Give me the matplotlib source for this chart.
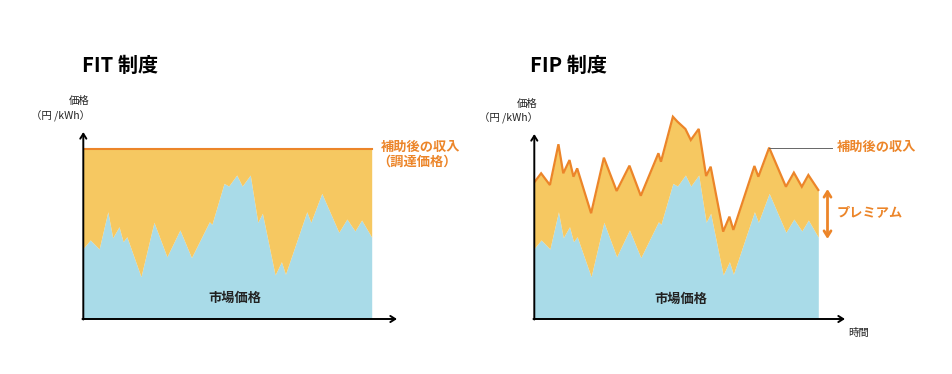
import matplotlib.pyplot as plt

plt.rcParams['font.family'] = ['Noto Sans CJK JP', 'DejaVu Sans']

# time (0-100) and market price
time = [0, 2.4, 5.5, 8.5, 10.2, 12.4, 13.8, 15.1, 20.0, 24.5, 29.0, 33.5, 37.5,
        43.7, 44.6, 48.8, 50.4, 53.2, 55.1, 57.9, 60.5, 62.1, 66.5, 68.7, 70.1,
        77.5, 78.9, 82.7, 88.6, 91.4, 94.2, 96.5, 100]
market = [41.6, 46.5, 41.2, 63.1, 47.8, 54.3, 45.5, 48.4, 24.9, 56.9, 36.6, 52.4, 36.1,
          57.2, 55.7, 79.8, 78.2, 84.7, 78.2, 84.7, 56.9, 62.2, 25.9, 33.7, 26.3,
          63.1, 56.9, 73.9, 51.0, 58.8, 51.8, 58.2, 48.1]
# FIP: market price + premium
fip_income = [80.4, 85.7, 78.8, 102.8, 85.7, 93.5, 83.7, 88.6, 62.2, 94.9, 75.3, 90.2, 72.5,
              97.5, 92.5, 119.0, 116.1, 111.8, 105.3, 111.8, 84.1, 89.6, 51.4, 60.2, 52.4,
              90.0, 83.7, 100.8, 77.8, 86.1, 77.8, 84.7, 75.9]
# FIT: fixed purchase price
fit_price = 100

W, H = 953, 374
BLUE = '#a9dbe8'
YELLOW = '#f6c861'
ORANGE = '#ec8529'
TEXT = '#222222'

fig = plt.figure(figsize=(W / 100, H / 100), dpi=100)


def make_axes(x0, x1, base, top, ppt, ppv):
    ax = fig.add_axes([x0 / W, (H - base) / H, (x1 - x0) / W, (base - top) / H])
    ax.set_xlim(0, (x1 - x0) / ppt)
    ax.set_ylim(0, (base - top) / ppv)
    ax.axis('off')
    return ax


def draw_arrows(ax, xend, yend):
    style = dict(arrowstyle='->,head_length=0.35,head_width=0.22', color='black', lw=1.4,
                 shrinkA=0, shrinkB=0)
    ax.annotate('', xy=(xend, 0), xytext=(-0.3, 0), arrowprops=style, annotation_clip=False)
    ax.annotate('', xy=(0, yend), xytext=(0, -0.3), arrowprops=style, annotation_clip=False)


def ftext(x, y, s, **kw):
    fig.text(x / W, 1 - y / H, s, **kw)


# ---- FIT ----
ax1 = make_axes(83.3, 400, 319, 100, 2.884, 1.7)
ax1.fill_between(time, 0, market, color=BLUE, lw=0)
ax1.fill_between(time, market, fit_price, color=YELLOW, lw=0)
ax1.plot([time[0], time[-1]], [fit_price, fit_price], color=ORANGE, lw=1.5)
draw_arrows(ax1, (397 - 83.3) / 2.884, (319 - 132) / 1.7)

ftext(82, 65, 'FIT 制度', fontsize=14.5, fontweight='bold', color='black', va='center')
ftext(90, 101, '価格', fontsize=7.5, color=TEXT, ha='right', va='center')
ftext(90, 116, '（円 /kWh）', fontsize=7.5, color=TEXT, ha='right', va='center')
ftext(381, 147, '補助後の収入', fontsize=9.5, fontweight='bold', color=ORANGE, va='center')
ftext(377, 162, '（調達価格）', fontsize=9.5, fontweight='bold', color=ORANGE, va='center')
ftext(235, 298, '市場価格', fontsize=9.5, fontweight='bold', color=TEXT, ha='center', va='center')

# ---- FIP ----
ax2 = make_axes(534.3, 850, 319, 100, 2.84, 1.7)
ax2.fill_between(time, 0, market, color=BLUE, lw=0)
ax2.fill_between(time, market, fip_income, color=YELLOW, lw=0)
ax2.plot(time, fip_income, color=ORANGE, lw=1.6, solid_joinstyle='miter')
draw_arrows(ax2, (845 - 534.3) / 2.84, (319 - 134) / 1.7)

# leader line from the peak to the label
peak = 27
ax2.plot([time[peak], (832 - 534.3) / 2.84], [fip_income[peak]] * 2, color='#666666', lw=0.7,
         clip_on=False)
# premium double arrow
px = (827.5 - 534.3) / 2.84
ax2.annotate('', xy=(px, (319 - 189) / 1.7), xytext=(px, (319 - 239) / 1.7),
             arrowprops=dict(arrowstyle='<->,head_length=0.4,head_width=0.25', color=ORANGE,
                             lw=2, shrinkA=0, shrinkB=0),
             annotation_clip=False)

ftext(530, 65, 'FIP 制度', fontsize=14.5, fontweight='bold', color='black', va='center')
ftext(538, 104, '価格', fontsize=7.5, color=TEXT, ha='right', va='center')
ftext(538, 118, '（円 /kWh）', fontsize=7.5, color=TEXT, ha='right', va='center')
ftext(837, 147, '補助後の収入', fontsize=9.5, fontweight='bold', color=ORANGE, va='center')
ftext(837, 212, 'プレミアム', fontsize=9.5, fontweight='bold', color=ORANGE, va='center')
ftext(681, 299, '市場価格', fontsize=9.5, fontweight='bold', color=TEXT, ha='center', va='center')
ftext(859, 333, '時間', fontsize=7.5, color=TEXT, ha='center', va='center')

fig.savefig('out.png', dpi=100, facecolor='white')
